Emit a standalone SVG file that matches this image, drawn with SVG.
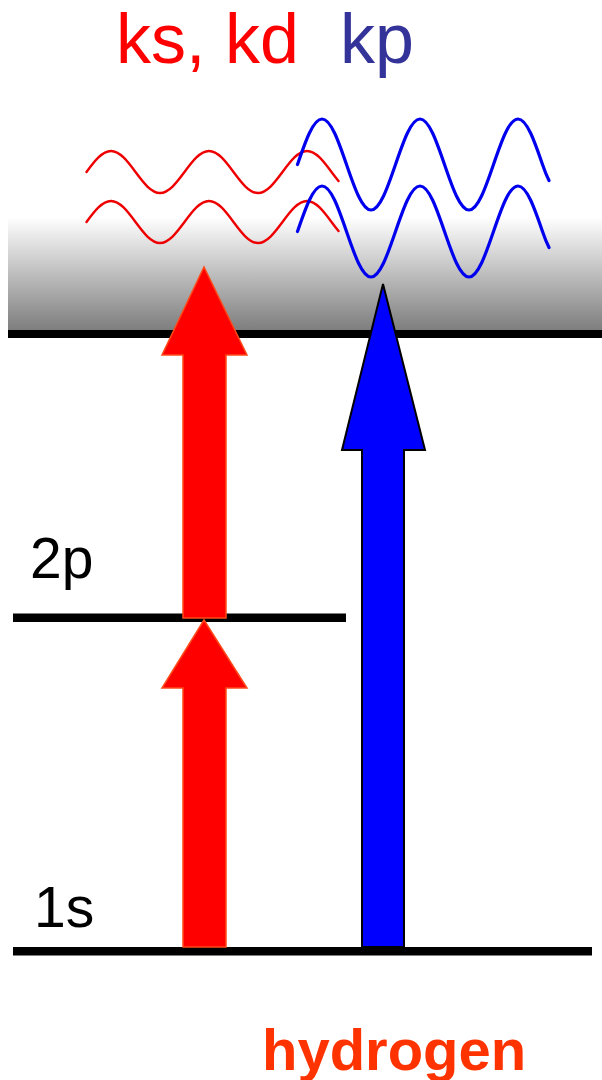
<svg xmlns="http://www.w3.org/2000/svg" width="602" height="1080" viewBox="0 0 602 1080">
<style>
.lbl{font-family:"Liberation Sans",Arial,sans-serif;}
.level{fill:#000000;}
.redwave{fill:none;stroke:#ee0000;stroke-width:2.4;stroke-linecap:round;}
.bluewave{fill:none;stroke:#0000ee;stroke-width:3.2;stroke-linecap:round;}
.redarrow{fill:#ff0000;stroke:#ff4a1a;stroke-width:1.5;stroke-linejoin:miter;}
.bluearrow{fill:#0000ff;stroke:#000000;stroke-width:2;stroke-linejoin:miter;}
</style>
<defs>
<linearGradient id="cont" x1="0" y1="0" x2="0" y2="1">
<stop offset="0" stop-color="#ffffff"/>
<stop offset="1" stop-color="#7f7f7f"/>
</linearGradient>
</defs>
<rect width="602" height="1080" fill="#ffffff"/>
<g id="continuum">
<rect x="8" y="217" width="594" height="112" fill="url(#cont)"/>
<rect class="level" x="8" y="329.5" width="594" height="8.5"/>
</g>
<g id="level-2p">
<rect class="level" x="13" y="613.5" width="333" height="8.5"/>
<text class="lbl" x="30" y="578" font-size="57" fill="#000000">2p</text>
</g>
<g id="level-1s">
<rect class="level" x="13" y="947" width="579" height="8.5"/>
<text class="lbl" x="34" y="927" font-size="57" fill="#000000">1s</text>
</g>
<g id="red-waves">
<path class="redwave" d="M86.5,172 c8,-10.76 15.68,-21 24.5,-21 s16.5,10.24 24.5,21 s15.68,21 24.5,21 s16.5,-10.24 24.5,-21 s15.68,-21 24.5,-21 s16.5,10.24 24.5,21 s15.68,21 24.5,21 s16.5,-10.24 24.5,-21 s15.68,-21 24.5,-21 s16.5,10.24 24.5,21 q3.5,4.7 7,9.1"/>
<path class="redwave" d="M86.5,222 c8,-10.76 15.68,-21 24.5,-21 s16.5,10.24 24.5,21 s15.68,21 24.5,21 s16.5,-10.24 24.5,-21 s15.68,-21 24.5,-21 s16.5,10.24 24.5,21 s15.68,21 24.5,21 s16.5,-10.24 24.5,-21 s15.68,-21 24.5,-21 s16.5,10.24 24.5,21 q3.5,4.7 7,9.1"/>
</g>
<g id="blue-waves">
<path class="bluewave" d="M297.5,164.5 c8,-23.31 15.68,-45.5 24.5,-45.5 s16.5,22.19 24.5,45.5 s15.68,45.5 24.5,45.5 s16.5,-22.19 24.5,-45.5 s15.68,-45.5 24.5,-45.5 s16.5,22.19 24.5,45.5 s15.68,45.5 24.5,45.5 s16.5,-22.19 24.5,-45.5 s15.68,-45.5 24.5,-45.5 s16.5,22.19 24.5,45.5 q3.25,9.5 6.5,16"/>
<path class="bluewave" d="M297.5,231.5 c8,-23.31 15.68,-45.5 24.5,-45.5 s16.5,22.19 24.5,45.5 s15.68,45.5 24.5,45.5 s16.5,-22.19 24.5,-45.5 s15.68,-45.5 24.5,-45.5 s16.5,22.19 24.5,45.5 s15.68,45.5 24.5,45.5 s16.5,-22.19 24.5,-45.5 s15.68,-45.5 24.5,-45.5 s16.5,22.19 24.5,45.5 q3.25,9.5 6.5,16"/>
</g>
<g id="connectors">
<polygon id="red-arrow-1s-2p" class="redarrow" points="204,620 247,688 226,688 226,947 183,947 183,688 162,688"/>
<polygon id="red-arrow-2p-cont" class="redarrow" points="204,267 247,355 226,355 226,618 183,618 183,355 162,355"/>
<polygon id="blue-arrow-1s-cont" class="bluearrow" points="383,284 425,450 404,450 404,947 362,947 362,450 342,450"/>
</g>
<g id="labels">
<text class="lbl" x="116" y="63" font-size="70" fill="#ff0000">ks, kd</text>
<text class="lbl" x="340" y="63" font-size="70" fill="#333399">kp</text>
<text class="lbl" x="262" y="1070" font-size="58" font-weight="bold" fill="#ff3300">hydrogen</text>
</g>
</svg>
